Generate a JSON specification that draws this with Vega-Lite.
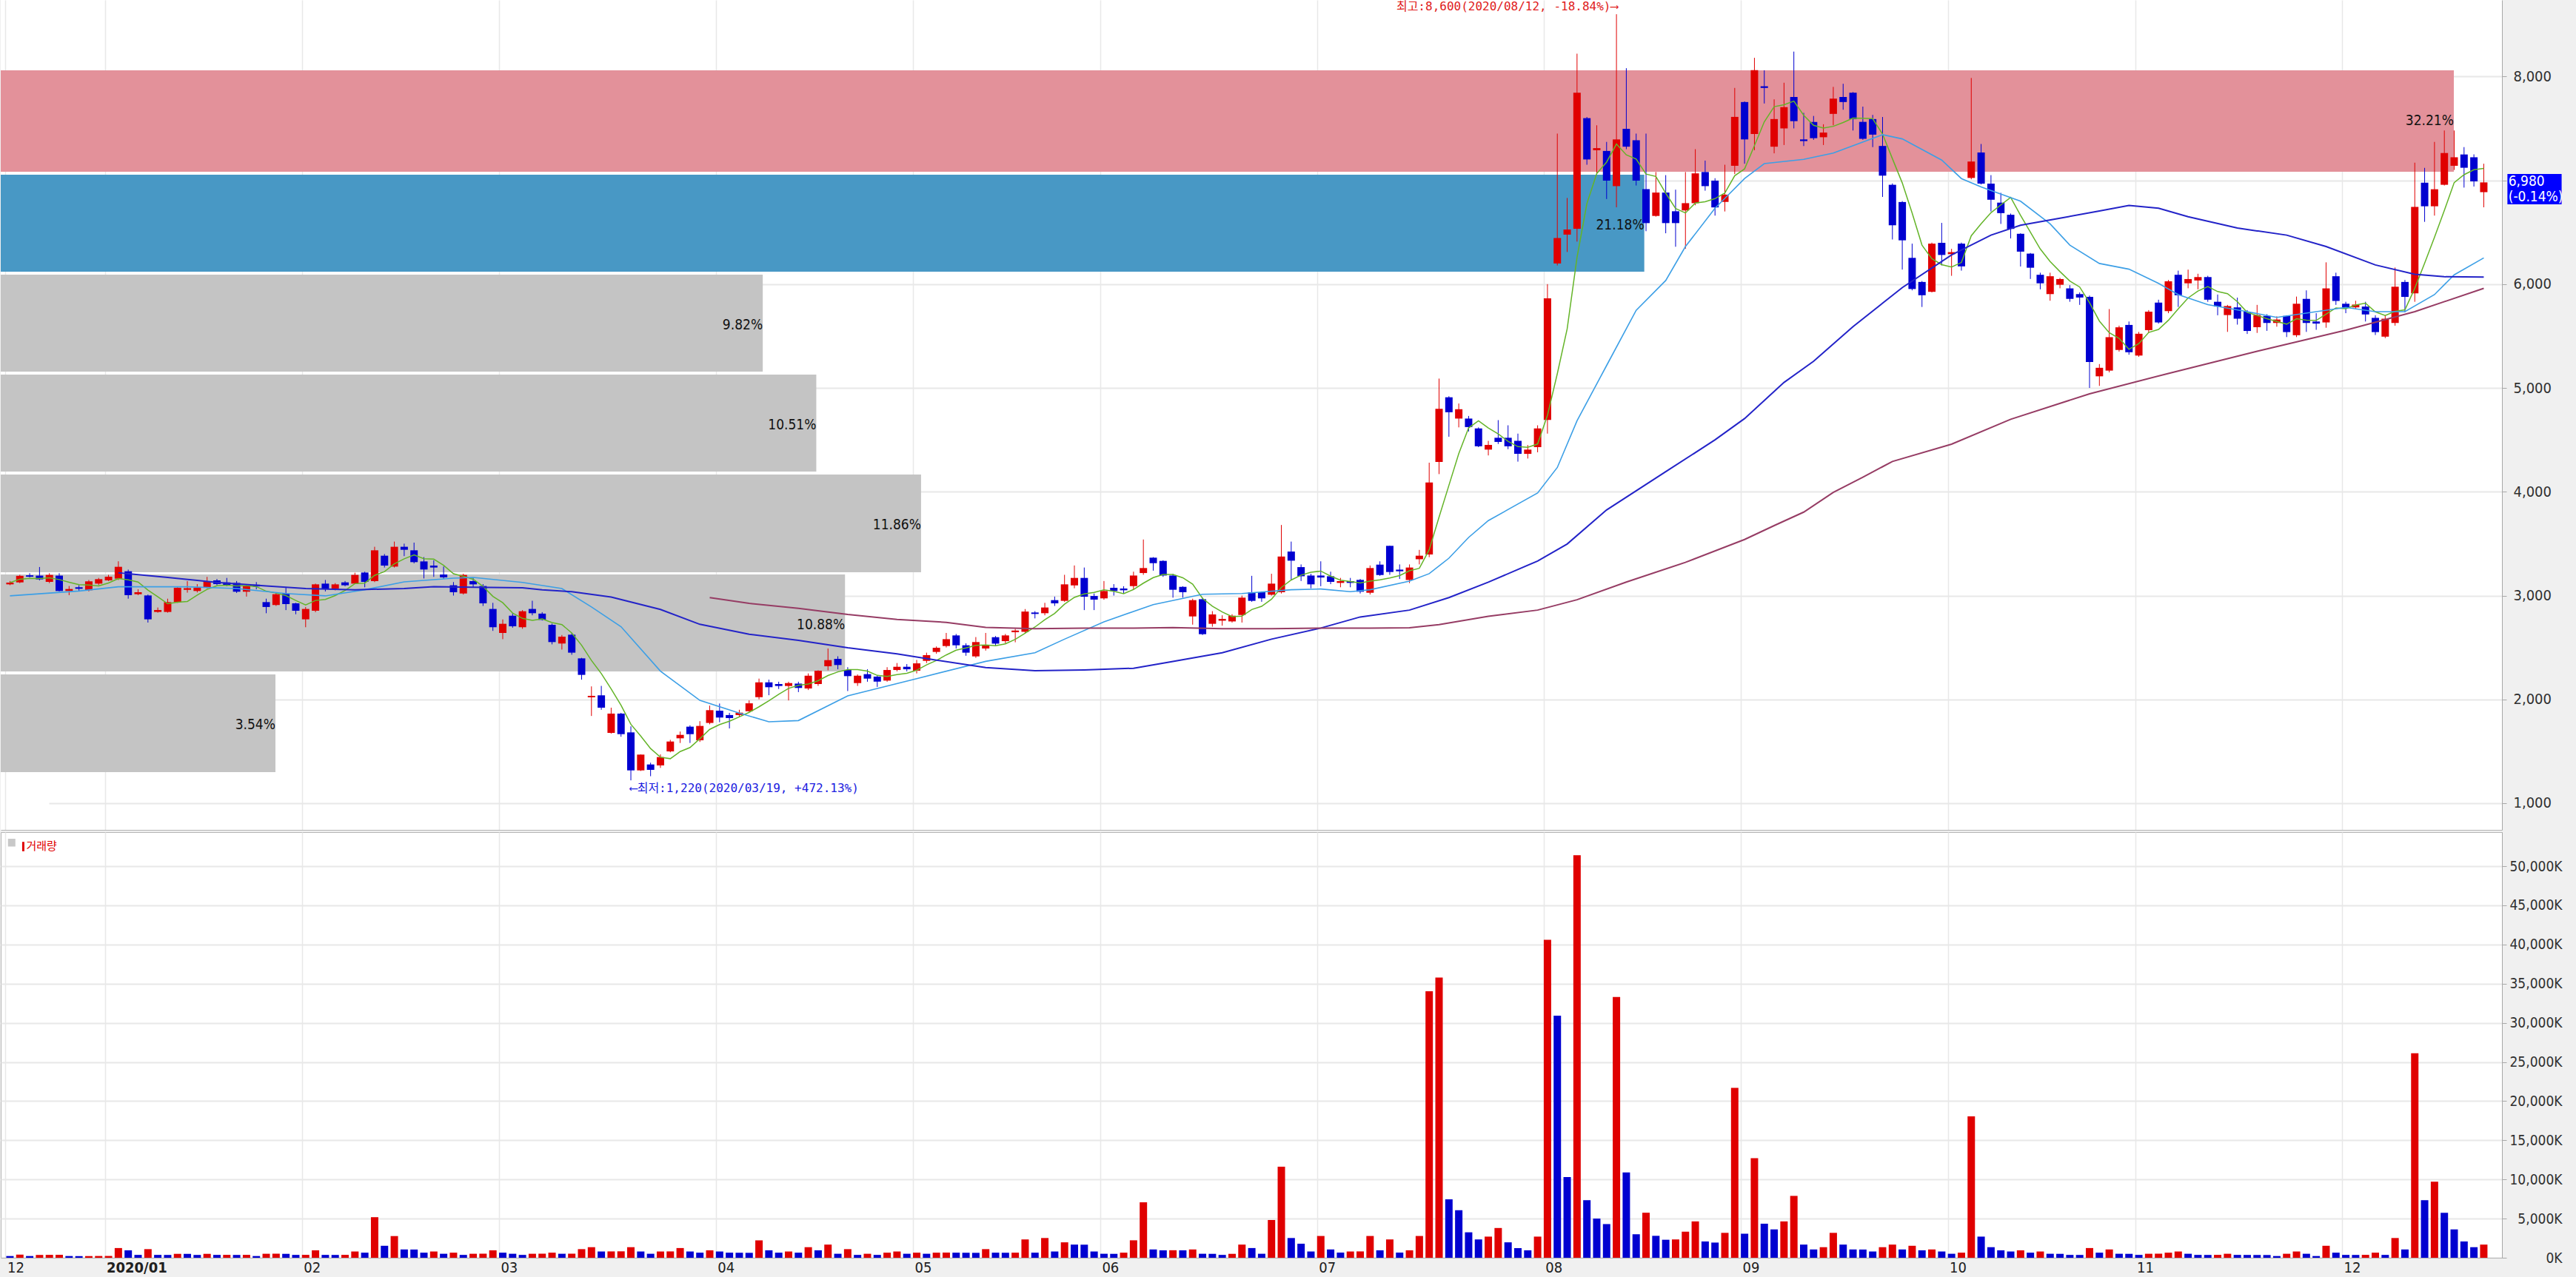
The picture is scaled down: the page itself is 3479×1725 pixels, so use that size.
{
  "$schema": "https://vega.github.io/schema/vega-lite/v6.json",
  "background": "#f0f0f0",
  "padding": 0,
  "spacing": 2,
  "config": {
    "view": {"stroke": null, "fill": "white"},
    "axis": {"labelFont": "Liberation Sans Narrow, DejaVu Sans Condensed, Liberation Sans, sans-serif", "labelColor": "#303030", "labelOverlap": false, "tickColor": "#a8a8a8", "domainColor": "#a8a8a8"}
  },
  "datasets": {
    "k": [
{"i":0,"o":3108,"h":3140,"l":3100,"c":3125,"v":220},{"i":1,"o":3127,"h":3200,"l":3120,"c":3190,"v":400},{"i":2,"o":3195,"h":3215,"l":3175,"c":3182,"v":220},{"i":3,"o":3192,"h":3275,"l":3146,"c":3156,"v":360},{"i":4,"o":3132,"h":3215,"l":3120,"c":3199,"v":370},{"i":5,"o":3192,"h":3215,"l":3040,"c":3044,"v":380},{"i":6,"o":3044,"h":3092,"l":3004,"c":3063,"v":220},{"i":7,"o":3080,"h":3100,"l":3040,"c":3065,"v":210},{"i":8,"o":3051,"h":3150,"l":3040,"c":3137,"v":215},{"i":9,"o":3115,"h":3170,"l":3100,"c":3158,"v":225},
{"i":10,"o":3146,"h":3200,"l":3140,"c":3182,"v":230},{"i":11,"o":3163,"h":3330,"l":3150,"c":3277,"v":1240},{"i":12,"o":3234,"h":3250,"l":2970,"c":3004,"v":950},{"i":13,"o":3013,"h":3060,"l":3004,"c":3032,"v":365},{"i":14,"o":3001,"h":3010,"l":2740,"c":2771,"v":1100},{"i":15,"o":2842,"h":2885,"l":2835,"c":2861,"v":365},{"i":16,"o":2842,"h":2970,"l":2835,"c":2937,"v":360},{"i":17,"o":2937,"h":3080,"l":2930,"c":3075,"v":500},{"i":18,"o":3055,"h":3139,"l":3028,"c":3072,"v":490},{"i":19,"o":3044,"h":3110,"l":3030,"c":3075,"v":360},
{"i":20,"o":3080,"h":3180,"l":3070,"c":3139,"v":500},{"i":21,"o":3146,"h":3160,"l":3100,"c":3111,"v":365},{"i":22,"o":3127,"h":3170,"l":3090,"c":3103,"v":370},{"i":23,"o":3122,"h":3140,"l":3025,"c":3037,"v":360},{"i":24,"o":3037,"h":3110,"l":2990,"c":3092,"v":370},{"i":25,"o":3105,"h":3130,"l":3060,"c":3088,"v":220},{"i":26,"o":2937,"h":2970,"l":2830,"c":2890,"v":510},{"i":27,"o":2909,"h":3030,"l":2900,"c":3013,"v":520},{"i":28,"o":3020,"h":3080,"l":2860,"c":2918,"v":500},{"i":29,"o":2925,"h":2930,"l":2820,"c":2854,"v":365},
{"i":30,"o":2771,"h":2890,"l":2695,"c":2871,"v":370},{"i":31,"o":2854,"h":3115,"l":2840,"c":3108,"v":950},{"i":32,"o":3115,"h":3150,"l":3040,"c":3061,"v":365},{"i":33,"o":3066,"h":3120,"l":3050,"c":3108,"v":360},{"i":34,"o":3127,"h":3140,"l":3090,"c":3099,"v":370},{"i":35,"o":3115,"h":3220,"l":3110,"c":3199,"v":800},{"i":36,"o":3222,"h":3230,"l":3080,"c":3132,"v":650},{"i":37,"o":3139,"h":3470,"l":3130,"c":3436,"v":5180},{"i":38,"o":3384,"h":3400,"l":3270,"c":3289,"v":1530},{"i":39,"o":3279,"h":3520,"l":3270,"c":3470,"v":2770},
{"i":40,"o":3470,"h":3500,"l":3380,"c":3441,"v":1060},{"i":41,"o":3436,"h":3510,"l":3310,"c":3322,"v":1050},{"i":42,"o":3329,"h":3370,"l":3165,"c":3251,"v":650},{"i":43,"o":3289,"h":3340,"l":3180,"c":3270,"v":800},{"i":44,"o":3203,"h":3280,"l":3160,"c":3175,"v":510},{"i":45,"o":3099,"h":3130,"l":3000,"c":3032,"v":650},{"i":46,"o":3020,"h":3210,"l":3010,"c":3199,"v":365},{"i":47,"o":3139,"h":3170,"l":3080,"c":3108,"v":510},{"i":48,"o":3092,"h":3110,"l":2900,"c":2925,"v":520},{"i":49,"o":2871,"h":2930,"l":2660,"c":2695,"v":950},
{"i":50,"o":2640,"h":2770,"l":2580,"c":2728,"v":650},{"i":51,"o":2806,"h":2830,"l":2690,"c":2704,"v":510},{"i":52,"o":2695,"h":2860,"l":2680,"c":2849,"v":365},{"i":53,"o":2871,"h":2950,"l":2810,"c":2830,"v":510},{"i":54,"o":2826,"h":2840,"l":2760,"c":2766,"v":520},{"i":55,"o":2718,"h":2730,"l":2530,"c":2552,"v":650},{"i":56,"o":2538,"h":2620,"l":2480,"c":2604,"v":510},{"i":57,"o":2623,"h":2640,"l":2430,"c":2450,"v":520},{"i":58,"o":2395,"h":2400,"l":2190,"c":2236,"v":1100},{"i":59,"o":2020,"h":2125,"l":1840,"c":2034,"v":1350},
{"i":60,"o":2039,"h":2130,"l":1900,"c":1920,"v":800},{"i":61,"o":1677,"h":1920,"l":1670,"c":1863,"v":810},{"i":62,"o":1863,"h":1870,"l":1640,"c":1665,"v":820},{"i":63,"o":1682,"h":1740,"l":1220,"c":1316,"v":1350},{"i":64,"o":1316,"h":1470,"l":1310,"c":1468,"v":800},{"i":65,"o":1373,"h":1390,"l":1260,"c":1321,"v":510},{"i":66,"o":1364,"h":1470,"l":1340,"c":1444,"v":800},{"i":67,"o":1499,"h":1610,"l":1490,"c":1594,"v":810},{"i":68,"o":1625,"h":1690,"l":1580,"c":1658,"v":1240},{"i":69,"o":1737,"h":1750,"l":1580,"c":1665,"v":800},
{"i":70,"o":1606,"h":1790,"l":1590,"c":1744,"v":650},{"i":71,"o":1773,"h":1940,"l":1760,"c":1896,"v":950},{"i":72,"o":1891,"h":1960,"l":1780,"c":1825,"v":800},{"i":73,"o":1849,"h":1870,"l":1720,"c":1820,"v":650},{"i":74,"o":1849,"h":1900,"l":1830,"c":1872,"v":640},{"i":75,"o":1886,"h":1990,"l":1880,"c":1962,"v":630},{"i":76,"o":2022,"h":2200,"l":2000,"c":2164,"v":2230},{"i":77,"o":2164,"h":2190,"l":2040,"c":2117,"v":950},{"i":78,"o":2148,"h":2170,"l":2100,"c":2129,"v":650},{"i":79,"o":2129,"h":2170,"l":1990,"c":2157,"v":800},
{"i":80,"o":2152,"h":2170,"l":2070,"c":2110,"v":650},{"i":81,"o":2105,"h":2250,"l":2090,"c":2228,"v":1350},{"i":82,"o":2148,"h":2280,"l":2130,"c":2276,"v":950},{"i":83,"o":2319,"h":2490,"l":2280,"c":2378,"v":1680},{"i":84,"o":2390,"h":2415,"l":2290,"c":2331,"v":510},{"i":85,"o":2283,"h":2310,"l":2080,"c":2224,"v":1100},{"i":86,"o":2157,"h":2240,"l":2130,"c":2228,"v":365},{"i":87,"o":2243,"h":2290,"l":2170,"c":2200,"v":510},{"i":88,"o":2219,"h":2230,"l":2120,"c":2171,"v":365},{"i":89,"o":2181,"h":2310,"l":2170,"c":2283,"v":650},
{"i":90,"o":2283,"h":2350,"l":2270,"c":2314,"v":800},{"i":91,"o":2314,"h":2340,"l":2270,"c":2290,"v":510},{"i":92,"o":2276,"h":2380,"l":2250,"c":2347,"v":650},{"i":93,"o":2371,"h":2450,"l":2350,"c":2426,"v":510},{"i":94,"o":2457,"h":2510,"l":2440,"c":2497,"v":650},{"i":95,"o":2514,"h":2640,"l":2500,"c":2580,"v":660},{"i":96,"o":2616,"h":2630,"l":2490,"c":2521,"v":650},{"i":97,"o":2521,"h":2540,"l":2420,"c":2450,"v":640},{"i":98,"o":2414,"h":2600,"l":2400,"c":2552,"v":630},{"i":99,"o":2490,"h":2640,"l":2470,"c":2521,"v":1100},
{"i":100,"o":2599,"h":2610,"l":2520,"c":2537,"v":650},{"i":101,"o":2561,"h":2630,"l":2540,"c":2616,"v":640},{"i":102,"o":2647,"h":2680,"l":2550,"c":2663,"v":650},{"i":103,"o":2651,"h":2870,"l":2640,"c":2846,"v":2340},{"i":104,"o":2837,"h":2850,"l":2780,"c":2823,"v":650},{"i":105,"o":2830,"h":2930,"l":2810,"c":2885,"v":2520},{"i":106,"o":2956,"h":2990,"l":2900,"c":2925,"v":800},{"i":107,"o":2949,"h":3200,"l":2940,"c":3108,"v":1970},{"i":108,"o":3098,"h":3290,"l":3070,"c":3170,"v":1680},{"i":109,"o":3170,"h":3270,"l":2860,"c":2989,"v":1670},
{"i":110,"o":2996,"h":3020,"l":2860,"c":2961,"v":800},{"i":111,"o":2973,"h":3140,"l":2960,"c":3044,"v":510},{"i":112,"o":3075,"h":3110,"l":3000,"c":3044,"v":500},{"i":113,"o":3068,"h":3090,"l":3020,"c":3051,"v":650},{"i":114,"o":3091,"h":3230,"l":3060,"c":3193,"v":2230},{"i":115,"o":3217,"h":3540,"l":3200,"c":3265,"v":7080},{"i":116,"o":3365,"h":3370,"l":3240,"c":3312,"v":1060},{"i":117,"o":3334,"h":3340,"l":3180,"c":3193,"v":950},{"i":118,"o":3193,"h":3210,"l":2980,"c":3056,"v":960},{"i":119,"o":3084,"h":3090,"l":2980,"c":3032,"v":950},
{"i":120,"o":2799,"h":2970,"l":2720,"c":2956,"v":1060},{"i":121,"o":2965,"h":2980,"l":2620,"c":2628,"v":510},{"i":122,"o":2728,"h":2850,"l":2700,"c":2818,"v":500},{"i":123,"o":2758,"h":2810,"l":2710,"c":2775,"v":365},{"i":124,"o":2751,"h":2820,"l":2740,"c":2806,"v":500},{"i":125,"o":2813,"h":3000,"l":2740,"c":2980,"v":1680},{"i":126,"o":3032,"h":3190,"l":2940,"c":2949,"v":1240},{"i":127,"o":3032,"h":3040,"l":2940,"c":2973,"v":510},{"i":128,"o":3008,"h":3210,"l":3000,"c":3115,"v":4820},{"i":129,"o":3032,"h":3680,"l":3020,"c":3376,"v":11620},
{"i":130,"o":3424,"h":3520,"l":3150,"c":3336,"v":2520},{"i":131,"o":3274,"h":3300,"l":3140,"c":3186,"v":1790},{"i":132,"o":3193,"h":3210,"l":3070,"c":3108,"v":800},{"i":133,"o":3193,"h":3330,"l":3090,"c":3174,"v":2780},{"i":134,"o":3186,"h":3230,"l":3110,"c":3132,"v":1060},{"i":135,"o":3122,"h":3170,"l":3080,"c":3139,"v":660},{"i":136,"o":3139,"h":3170,"l":3080,"c":3122,"v":800},{"i":137,"o":3151,"h":3160,"l":3020,"c":3037,"v":810},{"i":138,"o":3027,"h":3290,"l":3010,"c":3265,"v":2780},{"i":139,"o":3298,"h":3330,"l":3190,"c":3198,"v":950},
{"i":140,"o":3479,"h":3480,"l":3200,"c":3227,"v":2340},{"i":141,"o":3250,"h":3300,"l":3160,"c":3234,"v":660},{"i":142,"o":3150,"h":3300,"l":3120,"c":3270,"v":950},{"i":143,"o":3350,"h":3440,"l":3300,"c":3384,"v":2780},{"i":144,"o":3395,"h":4280,"l":3370,"c":4090,"v":34030},{"i":145,"o":4287,"h":5090,"l":4170,"c":4799,"v":35780},{"i":146,"o":4910,"h":4920,"l":4530,"c":4766,"v":7460},{"i":147,"o":4705,"h":4850,"l":4620,"c":4795,"v":6070},{"i":148,"o":4705,"h":4730,"l":4580,"c":4623,"v":3250},{"i":149,"o":4610,"h":4620,"l":4430,"c":4438,"v":2340},
{"i":150,"o":4406,"h":4490,"l":4350,"c":4451,"v":2700},{"i":151,"o":4520,"h":4690,"l":4460,"c":4480,"v":3800},{"i":152,"o":4520,"h":4640,"l":4410,"c":4438,"v":1970},{"i":153,"o":4491,"h":4560,"l":4290,"c":4365,"v":1240},{"i":154,"o":4365,"h":4450,"l":4320,"c":4406,"v":950},{"i":155,"o":4430,"h":4640,"l":4380,"c":4610,"v":2700},{"i":156,"o":4692,"h":6000,"l":4560,"c":5863,"v":40600},{"i":157,"o":6199,"h":7450,"l":6180,"c":6444,"v":30900},{"i":158,"o":6477,"h":6830,"l":6310,"c":6526,"v":10300},{"i":159,"o":6534,"h":8220,"l":6410,"c":7844,"v":51400},
{"i":160,"o":7599,"h":7610,"l":7150,"c":7201,"v":7350},{"i":161,"o":7290,"h":7530,"l":7060,"c":7310,"v":5000},{"i":162,"o":7283,"h":7370,"l":6820,"c":6997,"v":4300},{"i":163,"o":6944,"h":8600,"l":6740,"c":7394,"v":33300},{"i":164,"o":7496,"h":8080,"l":7300,"c":7324,"v":10900},{"i":165,"o":7386,"h":7450,"l":6950,"c":6997,"v":3000},{"i":166,"o":6915,"h":7450,"l":6510,"c":6588,"v":5750},{"i":167,"o":6657,"h":7080,"l":6650,"c":6882,"v":2800},{"i":168,"o":6882,"h":7050,"l":6490,"c":6588,"v":2300},{"i":169,"o":6702,"h":6910,"l":6360,"c":6588,"v":2340},
{"i":170,"o":6710,"h":7080,"l":6340,"c":6780,"v":3330},{"i":171,"o":6780,"h":7300,"l":6760,"c":7067,"v":4640},{"i":172,"o":7080,"h":7190,"l":6900,"c":6944,"v":2080},{"i":173,"o":6997,"h":7020,"l":6660,"c":6739,"v":1940},{"i":174,"o":6792,"h":7150,"l":6700,"c":6862,"v":3180},{"i":175,"o":7140,"h":7890,"l":7060,"c":7611,"v":21700},{"i":176,"o":7754,"h":7760,"l":7160,"c":7394,"v":3070},{"i":177,"o":7447,"h":8180,"l":7290,"c":8061,"v":12720},{"i":178,"o":7906,"h":8060,"l":7740,"c":7890,"v":4350},{"i":179,"o":7324,"h":7780,"l":7260,"c":7590,"v":3620},
{"i":180,"o":7500,"h":7940,"l":7340,"c":7705,"v":4640},{"i":181,"o":7803,"h":8240,"l":7500,"c":7570,"v":7900},{"i":182,"o":7394,"h":7650,"l":7330,"c":7378,"v":1680},{"i":183,"o":7562,"h":7620,"l":7390,"c":7406,"v":1060},{"i":184,"o":7415,"h":7540,"l":7340,"c":7460,"v":1350},{"i":185,"o":7640,"h":7900,"l":7530,"c":7787,"v":3180},{"i":186,"o":7803,"h":7930,"l":7680,"c":7754,"v":1680},{"i":187,"o":7844,"h":7850,"l":7480,"c":7590,"v":1060},{"i":188,"o":7563,"h":7710,"l":7390,"c":7400,"v":1050},{"i":189,"o":7590,"h":7630,"l":7320,"c":7440,"v":800},
{"i":190,"o":7331,"h":7610,"l":6840,"c":7045,"v":1350},{"i":191,"o":6957,"h":6970,"l":6430,"c":6567,"v":1680},{"i":192,"o":6791,"h":6800,"l":6140,"c":6422,"v":1060},{"i":193,"o":6253,"h":6390,"l":5940,"c":5953,"v":1530},{"i":194,"o":6021,"h":6030,"l":5780,"c":5893,"v":950},{"i":195,"o":5926,"h":6400,"l":5920,"c":6390,"v":1060},{"i":196,"o":6398,"h":6590,"l":6180,"c":6281,"v":800},{"i":197,"o":6289,"h":6340,"l":6080,"c":6308,"v":510},{"i":198,"o":6390,"h":6400,"l":6130,"c":6171,"v":650},{"i":199,"o":7023,"h":7986,"l":7010,"c":7181,"v":18060},
{"i":200,"o":7268,"h":7350,"l":6960,"c":6968,"v":2700},{"i":201,"o":6968,"h":7050,"l":6700,"c":6813,"v":1350},{"i":202,"o":6785,"h":6880,"l":6580,"c":6684,"v":950},{"i":203,"o":6668,"h":6680,"l":6440,"c":6532,"v":800},{"i":204,"o":6485,"h":6490,"l":6170,"c":6313,"v":950},{"i":205,"o":6294,"h":6300,"l":6050,"c":6158,"v":650},{"i":206,"o":6090,"h":6110,"l":5950,"c":6008,"v":800},{"i":207,"o":5904,"h":6110,"l":5840,"c":6076,"v":510},{"i":208,"o":5994,"h":6060,"l":5960,"c":6049,"v":500},{"i":209,"o":5959,"h":5990,"l":5830,"c":5858,"v":365},
{"i":210,"o":5904,"h":5920,"l":5800,"c":5871,"v":360},{"i":211,"o":5877,"h":5890,"l":5000,"c":5249,"v":1240},{"i":212,"o":5112,"h":5230,"l":5020,"c":5194,"v":650},{"i":213,"o":5167,"h":5760,"l":5150,"c":5489,"v":1060},{"i":214,"o":5366,"h":5600,"l":5350,"c":5584,"v":510},{"i":215,"o":5607,"h":5640,"l":5320,"c":5344,"v":500},{"i":216,"o":5312,"h":5540,"l":5300,"c":5522,"v":365},{"i":217,"o":5557,"h":5750,"l":5530,"c":5735,"v":510},{"i":218,"o":5822,"h":5850,"l":5620,"c":5631,"v":520},{"i":219,"o":5740,"h":6040,"l":5720,"c":6027,"v":650},
{"i":220,"o":6090,"h":6130,"l":5780,"c":5893,"v":800},{"i":221,"o":6008,"h":6140,"l":5960,"c":6049,"v":510},{"i":222,"o":6035,"h":6100,"l":5950,"c":6068,"v":365},{"i":223,"o":6068,"h":6080,"l":5830,"c":5850,"v":360},{"i":224,"o":5830,"h":5900,"l":5700,"c":5784,"v":370},{"i":225,"o":5702,"h":5800,"l":5540,"c":5789,"v":510},{"i":226,"o":5776,"h":5870,"l":5610,"c":5667,"v":365},{"i":227,"o":5735,"h":5750,"l":5520,"c":5549,"v":360},{"i":228,"o":5585,"h":5800,"l":5530,"c":5702,"v":355},{"i":229,"o":5694,"h":5710,"l":5550,"c":5626,"v":350},
{"i":230,"o":5626,"h":5690,"l":5590,"c":5659,"v":220},{"i":231,"o":5694,"h":5700,"l":5490,"c":5538,"v":510},{"i":232,"o":5508,"h":5880,"l":5490,"c":5811,"v":800},{"i":233,"o":5858,"h":5940,"l":5540,"c":5626,"v":510},{"i":234,"o":5640,"h":5720,"l":5560,"c":5620,"v":220},{"i":235,"o":5631,"h":6210,"l":5580,"c":5959,"v":1530},{"i":236,"o":6076,"h":6110,"l":5800,"c":5838,"v":650},{"i":237,"o":5811,"h":5830,"l":5720,"c":5776,"v":365},{"i":238,"o":5776,"h":5840,"l":5760,"c":5803,"v":360},{"i":239,"o":5784,"h":5830,"l":5640,"c":5708,"v":370},
{"i":240,"o":5675,"h":5700,"l":5510,"c":5538,"v":650},{"i":241,"o":5494,"h":5700,"l":5480,"c":5667,"v":365},{"i":242,"o":5626,"h":6160,"l":5600,"c":5975,"v":2520},{"i":243,"o":6021,"h":6040,"l":5730,"c":5877,"v":1060},{"i":244,"o":5912,"h":7170,"l":5830,"c":6744,"v":26100},{"i":245,"o":6977,"h":7120,"l":6600,"c":6750,"v":7350},{"i":246,"o":6750,"h":7370,"l":6660,"c":6914,"v":9720},{"i":247,"o":6957,"h":7480,"l":6950,"c":7263,"v":5740},{"i":248,"o":7140,"h":7480,"l":7100,"c":7222,"v":3620},{"i":249,"o":7249,"h":7320,"l":6930,"c":7121,"v":2080},
{"i":250,"o":7222,"h":7250,"l":6940,"c":6990,"v":1350},{"i":251,"o":6886,"h":7160,"l":6740,"c":6980,"v":1680}
    ],
    "m20": [{"i":0,"v":2997},{"i":7,"v":3044},{"i":11,"v":3085},{"i":18,"v":3085},{"i":23,"v":3068},{"i":28,"v":3020},{"i":32,"v":2997},{"i":36,"v":3056},{"i":40,"v":3132},{"i":45,"v":3168},{"i":47,"v":3175},{"i":52,"v":3127},{"i":56,"v":3068},{"i":59,"v":2890},{"i":62,"v":2700},{"i":66,"v":2272},{"i":70,"v":1990},{"i":74,"v":1868},{"i":77,"v":1784},{"i":80,"v":1796},{"i":85,"v":2034},{"i":92,"v":2200},{"i":99,"v":2366},{"i":104,"v":2449},{"i":107,"v":2580},{"i":111,"v":2747},{"i":116,"v":2913},{"i":121,"v":3013},{"i":125,"v":3020},{"i":130,"v":3056},{"i":133,"v":3063},{"i":136,"v":3037},{"i":138,"v":3056},{"i":142,"v":3139},{"i":144,"v":3211},{"i":146,"v":3360},{"i":148,"v":3560},{"i":150,"v":3722},{"i":155,"v":3988},{"i":157,"v":4234},{"i":159,"v":4684},{"i":162,"v":5216},{"i":165,"v":5748},{"i":168,"v":6035},{"i":170,"v":6362},{"i":173,"v":6731},{"i":176,"v":7017},{"i":178,"v":7161},{"i":182,"v":7202},{"i":185,"v":7263},{"i":190,"v":7440},{"i":192,"v":7399},{"i":196,"v":7195},{"i":198,"v":7017},{"i":200,"v":6936},{"i":204,"v":6799},{"i":207,"v":6581},{"i":209,"v":6376},{"i":212,"v":6199},{"i":215,"v":6144},{"i":218,"v":6008},{"i":220,"v":5899},{"i":223,"v":5803},{"i":227,"v":5735},{"i":230,"v":5680},{"i":234,"v":5735},{"i":237,"v":5776},{"i":240,"v":5735},{"i":243,"v":5735},{"i":246,"v":5899},{"i":248,"v":6090},{"i":251,"v":6253}],
    "m60": [{"i":11,"v":3220},{"i":16,"v":3175},{"i":21,"v":3127},{"i":26,"v":3092},{"i":30,"v":3068},{"i":35,"v":3056},{"i":40,"v":3068},{"i":43,"v":3085},{"i":47,"v":3080},{"i":52,"v":3075},{"i":54,"v":3056},{"i":57,"v":3037},{"i":61,"v":2985},{"i":66,"v":2866},{"i":70,"v":2723},{"i":75,"v":2628},{"i":80,"v":2568},{"i":85,"v":2497},{"i":90,"v":2438},{"i":94,"v":2378},{"i":99,"v":2307},{"i":104,"v":2276},{"i":109,"v":2283},{"i":114,"v":2300},{"i":118,"v":2366},{"i":123,"v":2449},{"i":128,"v":2580},{"i":133,"v":2687},{"i":137,"v":2794},{"i":142,"v":2860},{"i":146,"v":2980},{"i":150,"v":3129},{"i":155,"v":3333},{"i":158,"v":3497},{"i":162,"v":3825},{"i":168,"v":4193},{"i":173,"v":4500},{"i":176,"v":4705},{"i":180,"v":5053},{"i":183,"v":5257},{"i":187,"v":5590},{"i":192,"v":5967},{"i":197,"v":6281},{"i":201,"v":6472},{"i":204,"v":6567},{"i":208,"v":6635},{"i":212,"v":6704},{"i":215,"v":6758},{"i":218,"v":6731},{"i":221,"v":6649},{"i":226,"v":6540},{"i":231,"v":6472},{"i":235,"v":6362},{"i":240,"v":6185},{"i":244,"v":6095},{"i":247,"v":6071},{"i":251,"v":6068}],
    "m120": [{"i":71,"v":2980},{"i":75,"v":2925},{"i":80,"v":2877},{"i":85,"v":2818},{"i":90,"v":2770},{"i":95,"v":2742},{"i":99,"v":2694},{"i":104,"v":2680},{"i":109,"v":2687},{"i":114,"v":2687},{"i":118,"v":2692},{"i":123,"v":2680},{"i":128,"v":2680},{"i":133,"v":2687},{"i":138,"v":2687},{"i":142,"v":2690},{"i":145,"v":2720},{"i":150,"v":2800},{"i":155,"v":2860},{"i":159,"v":2960},{"i":164,"v":3130},{"i":170,"v":3320},{"i":176,"v":3540},{"i":179,"v":3674},{"i":182,"v":3804},{"i":185,"v":3994},{"i":188,"v":4140},{"i":191,"v":4292},{"i":197,"v":4458},{"i":203,"v":4698},{"i":211,"v":4943},{"i":219,"v":5140},{"i":228,"v":5353},{"i":237,"v":5557},{"i":244,"v":5735},{"i":251,"v":5959}],
    "prof": [{"lo":7082,"hi":8059,"s":0.3221},{"lo":6120,"hi":7054,"s":0.2118},{"lo":5157,"hi":6091,"s":0.0982},{"lo":4195,"hi":5129,"s":0.1051},{"lo":3225,"hi":4166,"s":0.1186},{"lo":2269,"hi":3203,"s":0.1088},{"lo":1299,"hi":2240,"s":0.0354}]
  },
  "vconcat": [
    {
      "width": 3378,
      "height": 1121,
      "resolve": {"scale": {"x": "independent"}},
      "layer": [
        {
          "data": {"name": "prof"},
          "layer": [
            {
              "mark": {"type": "rect"},
              "encoding": {
                "x": {"field": "s", "type": "quantitative", "scale": {"domain": [0, 0.3, 0.3221], "range": [0, 3144, 3313], "nice": false, "zero": false}, "axis": null, "title": null},
                "x2": {"datum": 0},
                "y": {"field": "lo", "type": "quantitative", "scale": {"domain": [743, 8737], "nice": false, "zero": false}, "title": null},
                "y2": {"field": "hi"},
                "color": {"condition": [{"test": "datum.s > 0.3", "value": "#e3919a"}, {"test": "datum.s > 0.2", "value": "#4898c5"}], "value": "#c4c4c4"}
              }
            },
            {
              "mark": {"type": "text", "align": "right", "baseline": "middle", "dy": 68, "font": "Liberation Sans Narrow, DejaVu Sans Condensed, sans-serif", "fontSize": 19, "color": "#111111"},
              "encoding": {
                "x": {"field": "s", "type": "quantitative", "title": null},
                "y": {"field": "hi", "type": "quantitative", "title": null},
                "text": {"field": "s", "type": "quantitative", "format": ".2%"}
              }
            }
          ]
        },
        {
          "data": {"name": "k"},
          "layer": [
            {
              "mark": {"type": "rule", "strokeWidth": 1},
              "encoding": {
                "x": {"field": "i", "type": "quantitative", "scale": {"domain": [-0.56, 252.47], "nice": false, "zero": false}, "title": null,
                  "axis": {"orient": "bottom", "values": [-0.45, 9.62, 29.62, 49.62, 71.62, 91.62, 110.62, 132.62, 155.62, 175.62, 196.62, 215.62, 236.62], "labels": false, "ticks": false, "domain": true, "domainColor": "#b4b4b4", "grid": true, "gridColor": "#e8e8e8", "gridWidth": 1.5, "minExtent": 0, "maxExtent": 0}},
                "y": {"field": "l", "type": "quantitative", "scale": {"domain": [743, 8737], "nice": false, "zero": false}, "title": null,
                  "axis": {"orient": "right", "values": [1000, 2000, 3000, 4000, 5000, 6000, 7000, 8000], "labelExpr": "datum.value == 7000 ? '' : format(datum.value, ',')", "grid": true, "gridColor": "#e8e8e8", "gridWidth": 2, "tickSize": 6, "labelPadding": 9, "labelAlign": "left", "labelFontSize": 20, "minExtent": 101, "maxExtent": 101}},
                "y2": {"field": "h"},
                "color": {"condition": {"test": "datum.c >= datum.o", "value": "#e00000"}, "value": "#0000d0"}
              }
            },
            {
              "mark": {"type": "bar", "size": 10},
              "encoding": {
                "x": {"field": "i", "type": "quantitative", "title": null},
                "y": {"field": "o", "type": "quantitative", "title": null},
                "y2": {"field": "c"},
                "color": {"condition": {"test": "datum.c >= datum.o", "value": "#e00000"}, "value": "#0000d0"}
              }
            },
            {
              "transform": [{"window": [{"op": "mean", "field": "c", "as": "ma5"}], "frame": [-4, 0], "sort": [{"field": "i"}]}],
              "mark": {"type": "line", "color": "#64b428", "strokeWidth": 1.5},
              "encoding": {
                "x": {"field": "i", "type": "quantitative", "title": null},
                "y": {"field": "ma5", "type": "quantitative", "title": null}
              }
            },
            {
              "data": {"name": "m20"},
              "mark": {"type": "line", "color": "#3c9fe6", "strokeWidth": 1.6},
              "encoding": {
                "x": {"field": "i", "type": "quantitative", "title": null},
                "y": {"field": "v", "type": "quantitative", "title": null}
              }
            },
            {
              "data": {"name": "m60"},
              "mark": {"type": "line", "color": "#2323c8", "strokeWidth": 2},
              "encoding": {
                "x": {"field": "i", "type": "quantitative", "title": null},
                "y": {"field": "v", "type": "quantitative", "title": null}
              }
            },
            {
              "data": {"name": "m120"},
              "mark": {"type": "line", "color": "#963c64", "strokeWidth": 2},
              "encoding": {
                "x": {"field": "i", "type": "quantitative", "title": null},
                "y": {"field": "v", "type": "quantitative", "title": null}
              }
            },
            {
              "data": {"values": [{"i": 163, "p": 8600, "t": "최고:8,600(2020/08/12, -18.84%)⟶"}]},
              "mark": {"type": "text", "align": "right", "baseline": "middle", "dy": -10, "dx": 2, "font": "DejaVu Sans Mono, Noto Sans CJK KR, monospace", "fontSize": 16, "color": "#e02020"},
              "encoding": {
                "x": {"field": "i", "type": "quantitative", "title": null},
                "y": {"field": "p", "type": "quantitative", "title": null},
                "text": {"field": "t"}
              }
            },
            {
              "data": {"values": [{"i": 63, "p": 1220, "t": "⟵최저:1,220(2020/03/19, +472.13%)"}]},
              "mark": {"type": "text", "align": "left", "baseline": "middle", "dy": 11, "dx": -1, "font": "DejaVu Sans Mono, Noto Sans CJK KR, monospace", "fontSize": 16, "color": "#2020e0"},
              "encoding": {
                "x": {"field": "i", "type": "quantitative", "title": null},
                "y": {"field": "p", "type": "quantitative", "title": null},
                "text": {"field": "t"}
              }
            },
            {
              "data": {"values": [{"p": 6980}]},
              "mark": {"type": "rect", "color": "#0000ff"},
              "encoding": {
                "x": {"datum": 253.4},
                "x2": {"datum": 258.9},
                "y": {"datum": 7061},
                "y2": {"datum": 6769}
              }
            },
            {
              "data": {"values": [{"p": 6980, "t": ["6,980", "(-0.14%)"]}]},
              "mark": {"type": "text", "align": "left", "baseline": "top", "lineHeight": 21, "font": "Liberation Sans Narrow, DejaVu Sans Condensed, sans-serif", "fontSize": 19, "color": "white"},
              "encoding": {
                "x": {"datum": 253.5},
                "y": {"datum": 7055},
                "text": {"field": "t"}
              }
            }
          ]
        }
      ]
    },
    {
      "width": 3378,
      "height": 575,
      "view": {"stroke": "#b4b4b4"},
      "layer": [
        {
          "data": {"name": "k"},
          "transform": [{"window": [{"op": "lag", "field": "v", "as": "pv"}], "sort": [{"field": "i"}]}],
          "mark": {"type": "bar", "size": 10},
          "encoding": {
            "x": {"field": "i", "type": "quantitative", "scale": {"domain": [-0.56, 252.47], "nice": false, "zero": false}, "title": null,
              "axis": {"orient": "bottom", "values": [-0.45, 9.62, 29.62, 49.62, 71.62, 91.62, 110.62, 132.62, 155.62, 175.62, 196.62, 215.62, 236.62],
                "labelExpr": "['12','2020/01','02','03','04','05','06','07','08','09','10','11','12'][indexof([-0.45,9.62,29.62,49.62,71.62,91.62,110.62,132.62,155.62,175.62,196.62,215.62,236.62], datum.value)]",
                "labelAlign": "left", "labelBaseline": "top", "labelOffset": 2, "labelPadding": 3, "labelFontSize": 20, "labelColor": "#202020",
                "labelFontWeight": {"condition": {"test": "datum.value > 9 && datum.value < 10", "value": "bold"}, "value": "normal"},
                "ticks": false, "grid": true, "gridColor": "#e8e8e8", "gridWidth": 1.5, "domainColor": "#b4b4b4", "minExtent": 27, "maxExtent": 27}},
            "y": {"field": "v", "type": "quantitative", "scale": {"domain": [0, 54350], "nice": false, "zero": true}, "title": null,
              "axis": {"orient": "right", "values": [0, 5000, 10000, 15000, 20000, 25000, 30000, 35000, 40000, 45000, 50000], "labelExpr": "format(datum.value, ',') + 'K'", "grid": true, "gridColor": "#e8e8e8", "gridWidth": 2, "tickSize": 6, "labelAlign": "right", "labelPadding": 75, "labelFontSize": 19, "minExtent": 101, "maxExtent": 101}},
            "color": {"condition": {"test": "datum.pv != null && datum.v > datum.pv", "value": "#e00000"}, "value": "#0000d0"}
          }
        },
        {
          "data": {"values": [{"t": "거래량"}]},
          "mark": {"type": "text", "align": "left", "baseline": "middle", "font": "Noto Sans CJK KR", "fontSize": 15, "color": "#e00000"},
          "encoding": {
            "x": {"datum": 1.65},
            "y": {"datum": 52600},
            "text": {"field": "t"}
          }
        },
        {
          "data": {"values": [{"t": "m"}]},
          "mark": {"type": "rule", "strokeWidth": 3, "color": "#e00000"},
          "encoding": {
            "x": {"datum": 1.35},
            "y": {"datum": 51900},
            "y2": {"datum": 53100}
          }
        },
        {
          "data": {"values": [{"t": "s"}]},
          "mark": {"type": "rect", "color": "#c8c8c8"},
          "encoding": {
            "x": {"datum": -0.2},
            "x2": {"datum": 0.55},
            "y": {"datum": 53500},
            "y2": {"datum": 52500}
          }
        }
      ]
    }
  ]
}
